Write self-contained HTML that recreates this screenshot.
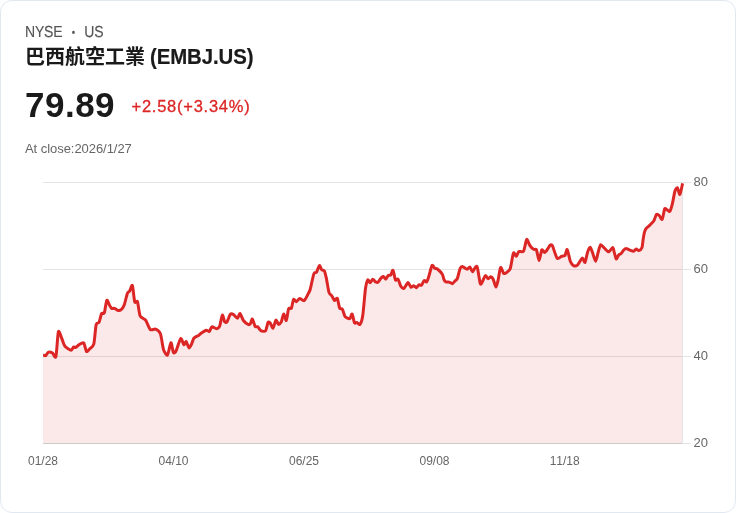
<!DOCTYPE html>
<html lang="zh-Hant">
<head>
<meta charset="utf-8">
<title>巴西航空工業 (EMBJ.US)</title>
<style>
*{box-sizing:border-box;margin:0;padding:0}
html,body{width:736px;height:513px;background:#fff;overflow:hidden}
body{font-family:"Liberation Sans","Noto Sans CJK TC",sans-serif;position:relative;color:#1a1a1a}
.card{position:absolute;left:0;top:0;width:736px;height:513px;border:1px solid #e2e8f0;border-radius:12px;background:#fff}
.t{position:absolute;white-space:nowrap;line-height:1;transform-origin:0 0}
.mkt{left:25px;top:25px;font-size:16px;color:#555;letter-spacing:-0.2px;transform:scale(0.875,1);-webkit-text-stroke:0.15px #555;text-rendering:geometricPrecision}
.mkt i{font-style:normal;display:inline-block;font-size:11px;width:25px;text-align:center;letter-spacing:0;vertical-align:1.2px}
.name{left:25px;top:47px;font-size:20px;font-weight:700;color:#1a1a1a}
.name span{display:inline-block;transform:scaleX(0.948);transform-origin:0 50%;margin-left:-1px;font-size:21.5px;letter-spacing:-0.1px;-webkit-text-stroke:0.2px #1a1a1a}
.price{left:25px;top:87px;font-size:35px;font-weight:700;color:#1a1a1a;letter-spacing:0.5px}
.chg{left:131.5px;top:98px;font-size:16.5px;color:#dc2626;letter-spacing:0.75px;-webkit-text-stroke:0.3px #dc2626}
.time{left:25px;top:141.5px;font-size:13px;color:#666;letter-spacing:-0.05px}
svg{position:absolute;left:0;top:0}
svg text{font-family:"Liberation Sans",sans-serif;fill:#666;font-kerning:none}
</style>
</head>
<body>
<div class="card"></div>
<div class="t mkt">NYSE<i>•</i>US</div>
<div class="t name">巴西航空工業 <span>(EMBJ.US)</span></div>
<div class="t price">79.89</div>
<div class="t chg">+2.58(+3.34%)</div>
<div class="t time">At close:2026/1/27</div>
<svg width="736" height="513" viewBox="0 0 736 513">
<defs><clipPath id="c"><rect x="43" y="170" width="645" height="274"/></clipPath><clipPath id="a"><rect x="43" y="170" width="639" height="273"/></clipPath></defs>
<g stroke="#e4e4e4" stroke-width="1" shape-rendering="crispEdges">
<line x1="43" y1="182.5" x2="691" y2="182.5"/>
<line x1="43" y1="269.5" x2="691" y2="269.5"/>
<line x1="43" y1="356.5" x2="691" y2="356.5"/>
<line x1="43" y1="443.5" x2="691" y2="443.5"/>
</g>
<line x1="43" y1="443.5" x2="683" y2="443.5" stroke="#ccc" stroke-width="1"/>
<path d="M43.0,354.9C43.3,355.0 44.8,356.0 45.5,355.7C46.1,355.3 47.7,352.4 48.6,352.1C49.4,351.8 51.6,352.5 52.5,353.0C53.4,353.6 55.2,359.1 55.9,356.6C56.6,354.1 57.7,334.0 58.4,331.8C59.1,329.6 61.1,336.8 61.8,338.5C62.6,340.2 63.8,344.9 65.0,346.3C66.1,347.7 70.2,350.1 71.2,350.2C72.2,350.3 73.0,347.4 73.5,347.1C74.1,346.7 75.2,347.7 75.9,347.4C76.5,347.1 78.1,345.3 79.0,344.7C79.9,344.2 82.8,342.1 83.7,342.9C84.6,343.7 85.7,350.8 86.5,351.5C87.2,352.1 89.0,349.5 89.9,348.6C90.8,347.7 93.1,346.9 93.8,344.0C94.6,341.1 95.5,327.0 96.2,324.5C96.8,321.9 98.3,323.7 99.0,322.4C99.6,321.1 101.0,314.7 101.6,313.5C102.3,312.4 103.7,314.4 104.3,312.8C104.9,311.2 106.2,301.2 106.8,300.3C107.4,299.3 108.8,304.0 109.4,305.0C110.0,305.9 111.1,308.0 111.8,308.4C112.4,308.8 113.8,308.1 114.6,308.4C115.3,308.6 117.2,310.3 118.0,310.4C118.8,310.6 120.4,310.3 121.1,309.6C121.9,309.0 123.5,306.9 124.2,305.0C125.0,303.0 126.7,294.9 127.4,293.3C128.0,291.6 129.1,291.9 129.7,290.9C130.3,290.0 131.8,284.1 132.4,285.5C133.0,286.8 134.1,299.9 134.7,301.8C135.3,303.8 136.8,300.2 137.5,301.8C138.1,303.5 139.2,313.7 140.1,315.9C141.1,318.1 144.4,318.6 145.6,320.2C146.8,321.9 149.1,328.5 150.3,329.6C151.5,330.7 154.5,328.6 155.7,329.1C157.0,329.6 159.5,331.4 160.4,333.8C161.4,336.3 162.7,346.9 163.5,349.4C164.4,352.0 166.6,356.0 167.4,355.2C168.3,354.4 170.2,343.0 170.9,342.7C171.6,342.4 172.8,351.6 173.4,352.5C174.0,353.5 175.1,352.7 176.0,351.0C176.9,349.3 179.8,339.3 180.7,338.5C181.6,337.8 183.2,344.4 183.8,344.7C184.5,345.1 185.5,341.2 186.2,341.6C186.8,342.0 188.3,347.6 189.0,347.9C189.6,348.1 191.0,345.1 191.6,344.0C192.2,342.8 193.1,339.1 194.0,338.0C194.8,337.0 197.7,336.0 198.6,335.4C199.6,334.7 200.8,333.3 201.8,332.7C202.7,332.1 205.5,330.4 206.4,330.2C207.3,330.1 208.6,331.9 209.3,331.5C209.9,331.1 211.0,327.1 211.9,326.8C212.8,326.5 215.6,328.8 216.6,328.7C217.5,328.6 219.0,327.7 219.7,326.0C220.4,324.4 221.7,315.6 222.3,315.1C222.9,314.6 224.1,321.0 224.7,321.8C225.2,322.6 226.4,322.6 227.0,321.8C227.7,320.9 229.4,315.5 230.1,314.6C230.9,313.7 232.4,313.9 233.3,314.3C234.1,314.7 236.7,318.3 237.5,318.2C238.3,318.1 239.3,313.2 240.0,313.5C240.7,313.8 242.4,319.2 243.4,320.5C244.4,321.8 247.2,324.0 248.1,324.4C248.9,324.8 249.9,324.3 250.4,323.6C250.9,323.0 251.9,318.6 252.4,319.0C253.0,319.3 254.5,325.5 255.1,326.5C255.7,327.4 257.1,326.3 257.8,326.8C258.4,327.3 259.9,330.2 260.9,330.7C261.8,331.1 264.7,331.7 265.6,330.7C266.4,329.7 267.5,323.3 268.0,322.4C268.6,321.5 269.6,322.2 270.2,322.9C270.8,323.6 272.4,328.6 273.0,328.3C273.7,328.0 275.2,320.7 275.9,320.2C276.5,319.7 277.9,324.2 278.5,324.4C279.1,324.6 280.5,323.3 281.2,322.1C281.8,320.8 283.0,314.2 283.7,314.0C284.3,313.8 285.7,321.1 286.3,320.5C286.9,319.9 288.0,310.3 288.6,308.8C289.3,307.3 290.9,309.2 291.5,308.0C292.0,306.9 293.0,300.2 293.6,299.5C294.2,298.7 295.7,301.9 296.4,301.8C297.2,301.7 298.6,298.5 299.6,298.4C300.5,298.2 303.1,301.3 304.2,300.6C305.4,299.8 308.2,293.8 308.9,292.4C309.7,291.1 309.7,291.2 310.3,289.0C310.9,286.8 313.1,275.7 313.9,273.7C314.7,271.7 315.9,273.1 316.6,272.2C317.2,271.2 318.7,265.9 319.4,265.6C320.0,265.3 321.1,269.2 321.7,269.8C322.3,270.5 323.8,269.9 324.4,270.9C324.9,271.9 325.8,275.8 326.4,278.4C326.9,281.0 328.4,290.3 329.0,292.4C329.7,294.5 331.2,294.9 331.8,295.9C332.5,296.8 334.0,300.3 334.6,300.6C335.3,300.9 336.7,297.5 337.3,298.4C337.9,299.3 339.0,306.7 339.6,308.0C340.3,309.4 341.8,308.3 342.4,309.3C343.1,310.3 344.2,315.5 345.1,316.6C346.0,317.7 348.9,319.0 349.8,318.7C350.6,318.3 351.6,313.5 352.1,314.0C352.7,314.5 353.9,321.9 354.5,322.9C355.0,323.9 356.1,322.2 356.8,322.4C357.5,322.6 359.2,325.2 359.9,324.4C360.6,323.6 362.1,320.1 362.7,315.8C363.4,311.6 364.8,293.6 365.4,289.3C366.0,285.0 367.2,280.7 367.7,280.0C368.3,279.2 369.5,282.9 370.1,282.8C370.7,282.7 372.1,279.3 372.7,279.2C373.4,279.1 374.9,281.5 375.5,281.8C376.1,282.2 377.2,282.8 377.9,282.3C378.5,281.9 380.3,278.8 381.0,278.1C381.6,277.4 382.8,276.4 383.3,276.5C383.9,276.7 385.1,279.3 385.7,279.2C386.3,279.0 387.7,275.8 388.3,275.3C388.9,274.8 390.2,275.6 390.8,275.0C391.4,274.4 392.4,269.7 393.0,270.3C393.6,270.9 394.9,278.9 395.5,280.0C396.1,281.0 397.5,278.4 398.1,279.2C398.8,279.9 400.1,285.1 400.8,286.2C401.5,287.3 403.0,288.8 403.9,288.4C404.8,287.9 407.3,282.7 408.1,282.6C409.0,282.5 410.2,286.9 410.9,287.3C411.6,287.6 413.1,285.6 413.7,285.7C414.4,285.8 415.7,287.8 416.4,287.7C417.0,287.6 418.4,285.2 419.0,284.9C419.7,284.6 420.9,285.8 421.5,285.2C422.1,284.7 423.5,281.0 424.2,280.6C424.8,280.1 426.2,282.5 426.8,281.8C427.5,281.1 428.7,276.7 429.3,274.8C429.9,272.8 431.3,266.2 432.0,265.4C432.6,264.6 434.0,267.6 434.6,268.1C435.3,268.5 436.5,268.3 437.4,269.0C438.4,269.8 441.5,273.0 442.3,274.3C443.1,275.6 443.6,278.7 444.0,279.6C444.4,280.5 445.4,281.7 446.0,282.0C446.6,282.3 448.4,281.9 449.1,282.1C449.9,282.3 451.6,283.8 452.3,283.7C453.0,283.5 454.3,281.7 454.9,281.0C455.5,280.4 456.8,279.9 457.4,278.4C458.0,276.9 459.5,270.0 460.1,268.5C460.7,267.1 461.6,266.4 462.4,266.5C463.2,266.6 466.2,269.3 467.1,269.3C468.0,269.4 469.2,266.7 469.9,267.0C470.5,267.3 471.9,271.5 472.5,271.7C473.1,271.8 474.3,268.6 474.9,268.1C475.4,267.5 476.6,265.1 477.2,267.0C477.9,268.9 479.7,282.0 480.3,283.7C481.0,285.4 482.1,282.0 482.7,281.0C483.3,280.0 484.7,275.8 485.3,275.6C486.0,275.3 487.5,278.5 488.1,278.7C488.8,278.8 490.2,276.7 490.8,276.8C491.4,276.9 492.7,278.2 493.3,279.5C493.9,280.7 495.3,287.0 495.9,287.1C496.5,287.2 497.6,282.4 498.1,280.1C498.7,277.7 499.9,268.4 500.6,267.6C501.3,266.8 503.0,272.8 503.7,273.4C504.5,273.9 506.1,272.9 506.8,272.3C507.6,271.7 509.5,270.7 510.3,268.4C511.1,266.1 512.7,254.5 513.4,253.1C514.1,251.6 515.6,256.4 516.2,256.2C516.9,256.0 518.0,252.1 518.9,251.5C519.7,250.9 522.6,252.6 523.5,251.2C524.5,249.8 525.9,240.2 526.7,239.5C527.4,238.8 528.9,244.1 529.8,245.3C530.6,246.5 532.9,248.8 533.7,249.3C534.5,249.9 535.8,248.6 536.5,250.0C537.1,251.3 538.5,260.6 539.1,260.6C539.8,260.6 541.1,250.9 541.8,250.0C542.4,249.0 543.9,252.5 544.6,252.4C545.3,252.4 546.8,250.2 547.4,249.3C548.1,248.5 549.5,245.7 550.1,245.3C550.7,244.8 551.6,244.2 552.4,245.7C553.2,247.3 556.0,257.0 557.1,258.2C558.2,259.5 560.8,256.5 561.8,256.2C562.7,255.9 564.2,256.4 564.9,255.6C565.5,254.8 566.6,248.9 567.2,249.6C567.9,250.3 569.6,259.4 570.3,261.3C571.1,263.3 572.6,265.1 573.5,265.6C574.3,266.0 576.3,266.1 577.4,265.2C578.4,264.3 581.3,258.4 582.2,258.1C583.2,257.7 584.4,263.1 585.0,262.4C585.6,261.8 586.9,254.3 587.5,252.5C588.1,250.6 589.6,247.2 590.2,247.2C590.8,247.2 591.8,250.8 592.5,252.5C593.1,254.1 594.9,261.2 595.6,261.2C596.3,261.2 597.5,254.4 598.1,252.5C598.7,250.5 599.8,245.2 600.6,244.7C601.4,244.3 604.0,247.9 605.0,248.7C605.9,249.6 607.8,252.0 608.7,251.8C609.6,251.7 612.0,247.4 612.7,247.5C613.4,247.5 613.9,251.1 614.3,252.5C614.8,253.8 615.7,258.7 616.2,259.0C616.7,259.3 618.1,255.6 618.7,255.0C619.3,254.3 620.6,254.1 621.2,253.5C621.8,252.9 623.1,250.6 623.7,250.0C624.3,249.4 625.4,248.4 626.2,248.5C626.9,248.5 629.0,249.9 629.9,250.2C630.8,250.5 632.9,251.4 633.7,251.2C634.4,251.1 635.6,249.0 636.2,249.0C636.8,248.9 638.0,250.8 638.7,250.6C639.4,250.4 641.5,248.9 642.0,247.5C642.5,246.1 642.9,240.8 643.2,239.0C643.5,237.2 644.0,233.7 644.4,232.4C644.8,231.1 645.6,229.3 646.2,228.4C646.9,227.5 649.1,225.9 650.0,224.9C650.9,224.0 653.1,222.0 653.9,220.7C654.7,219.4 655.8,215.0 656.5,214.4C657.2,213.8 658.7,215.0 659.3,215.6C660.0,216.2 661.6,220.1 662.2,219.3C662.9,218.5 664.1,209.8 664.7,208.7C665.3,207.6 666.8,209.9 667.5,210.2C668.1,210.5 669.4,212.0 670.0,211.2C670.5,210.4 671.8,206.1 672.4,203.7C673.0,201.3 674.3,193.1 674.9,191.2C675.5,189.3 676.8,187.4 677.4,187.7C678.0,188.1 679.3,194.9 679.9,194.4C680.6,193.8 682.3,184.6 682.6,183.3L682.6,443L43.0,443Z" fill="#dc2626" fill-opacity="0.1" stroke="none" clip-path="url(#a)"/>
<line x1="682.5" y1="182" x2="682.5" y2="444" stroke="#e4e4e4" stroke-width="1" shape-rendering="crispEdges"/>
<g clip-path="url(#c)">
<path d="M43.0,354.9C43.3,355.0 44.8,356.0 45.5,355.7C46.1,355.3 47.7,352.4 48.6,352.1C49.4,351.8 51.6,352.5 52.5,353.0C53.4,353.6 55.2,359.1 55.9,356.6C56.6,354.1 57.7,334.0 58.4,331.8C59.1,329.6 61.1,336.8 61.8,338.5C62.6,340.2 63.8,344.9 65.0,346.3C66.1,347.7 70.2,350.1 71.2,350.2C72.2,350.3 73.0,347.4 73.5,347.1C74.1,346.7 75.2,347.7 75.9,347.4C76.5,347.1 78.1,345.3 79.0,344.7C79.9,344.2 82.8,342.1 83.7,342.9C84.6,343.7 85.7,350.8 86.5,351.5C87.2,352.1 89.0,349.5 89.9,348.6C90.8,347.7 93.1,346.9 93.8,344.0C94.6,341.1 95.5,327.0 96.2,324.5C96.8,321.9 98.3,323.7 99.0,322.4C99.6,321.1 101.0,314.7 101.6,313.5C102.3,312.4 103.7,314.4 104.3,312.8C104.9,311.2 106.2,301.2 106.8,300.3C107.4,299.3 108.8,304.0 109.4,305.0C110.0,305.9 111.1,308.0 111.8,308.4C112.4,308.8 113.8,308.1 114.6,308.4C115.3,308.6 117.2,310.3 118.0,310.4C118.8,310.6 120.4,310.3 121.1,309.6C121.9,309.0 123.5,306.9 124.2,305.0C125.0,303.0 126.7,294.9 127.4,293.3C128.0,291.6 129.1,291.9 129.7,290.9C130.3,290.0 131.8,284.1 132.4,285.5C133.0,286.8 134.1,299.9 134.7,301.8C135.3,303.8 136.8,300.2 137.5,301.8C138.1,303.5 139.2,313.7 140.1,315.9C141.1,318.1 144.4,318.6 145.6,320.2C146.8,321.9 149.1,328.5 150.3,329.6C151.5,330.7 154.5,328.6 155.7,329.1C157.0,329.6 159.5,331.4 160.4,333.8C161.4,336.3 162.7,346.9 163.5,349.4C164.4,352.0 166.6,356.0 167.4,355.2C168.3,354.4 170.2,343.0 170.9,342.7C171.6,342.4 172.8,351.6 173.4,352.5C174.0,353.5 175.1,352.7 176.0,351.0C176.9,349.3 179.8,339.3 180.7,338.5C181.6,337.8 183.2,344.4 183.8,344.7C184.5,345.1 185.5,341.2 186.2,341.6C186.8,342.0 188.3,347.6 189.0,347.9C189.6,348.1 191.0,345.1 191.6,344.0C192.2,342.8 193.1,339.1 194.0,338.0C194.8,337.0 197.7,336.0 198.6,335.4C199.6,334.7 200.8,333.3 201.8,332.7C202.7,332.1 205.5,330.4 206.4,330.2C207.3,330.1 208.6,331.9 209.3,331.5C209.9,331.1 211.0,327.1 211.9,326.8C212.8,326.5 215.6,328.8 216.6,328.7C217.5,328.6 219.0,327.7 219.7,326.0C220.4,324.4 221.7,315.6 222.3,315.1C222.9,314.6 224.1,321.0 224.7,321.8C225.2,322.6 226.4,322.6 227.0,321.8C227.7,320.9 229.4,315.5 230.1,314.6C230.9,313.7 232.4,313.9 233.3,314.3C234.1,314.7 236.7,318.3 237.5,318.2C238.3,318.1 239.3,313.2 240.0,313.5C240.7,313.8 242.4,319.2 243.4,320.5C244.4,321.8 247.2,324.0 248.1,324.4C248.9,324.8 249.9,324.3 250.4,323.6C250.9,323.0 251.9,318.6 252.4,319.0C253.0,319.3 254.5,325.5 255.1,326.5C255.7,327.4 257.1,326.3 257.8,326.8C258.4,327.3 259.9,330.2 260.9,330.7C261.8,331.1 264.7,331.7 265.6,330.7C266.4,329.7 267.5,323.3 268.0,322.4C268.6,321.5 269.6,322.2 270.2,322.9C270.8,323.6 272.4,328.6 273.0,328.3C273.7,328.0 275.2,320.7 275.9,320.2C276.5,319.7 277.9,324.2 278.5,324.4C279.1,324.6 280.5,323.3 281.2,322.1C281.8,320.8 283.0,314.2 283.7,314.0C284.3,313.8 285.7,321.1 286.3,320.5C286.9,319.9 288.0,310.3 288.6,308.8C289.3,307.3 290.9,309.2 291.5,308.0C292.0,306.9 293.0,300.2 293.6,299.5C294.2,298.7 295.7,301.9 296.4,301.8C297.2,301.7 298.6,298.5 299.6,298.4C300.5,298.2 303.1,301.3 304.2,300.6C305.4,299.8 308.2,293.8 308.9,292.4C309.7,291.1 309.7,291.2 310.3,289.0C310.9,286.8 313.1,275.7 313.9,273.7C314.7,271.7 315.9,273.1 316.6,272.2C317.2,271.2 318.7,265.9 319.4,265.6C320.0,265.3 321.1,269.2 321.7,269.8C322.3,270.5 323.8,269.9 324.4,270.9C324.9,271.9 325.8,275.8 326.4,278.4C326.9,281.0 328.4,290.3 329.0,292.4C329.7,294.5 331.2,294.9 331.8,295.9C332.5,296.8 334.0,300.3 334.6,300.6C335.3,300.9 336.7,297.5 337.3,298.4C337.9,299.3 339.0,306.7 339.6,308.0C340.3,309.4 341.8,308.3 342.4,309.3C343.1,310.3 344.2,315.5 345.1,316.6C346.0,317.7 348.9,319.0 349.8,318.7C350.6,318.3 351.6,313.5 352.1,314.0C352.7,314.5 353.9,321.9 354.5,322.9C355.0,323.9 356.1,322.2 356.8,322.4C357.5,322.6 359.2,325.2 359.9,324.4C360.6,323.6 362.1,320.1 362.7,315.8C363.4,311.6 364.8,293.6 365.4,289.3C366.0,285.0 367.2,280.7 367.7,280.0C368.3,279.2 369.5,282.9 370.1,282.8C370.7,282.7 372.1,279.3 372.7,279.2C373.4,279.1 374.9,281.5 375.5,281.8C376.1,282.2 377.2,282.8 377.9,282.3C378.5,281.9 380.3,278.8 381.0,278.1C381.6,277.4 382.8,276.4 383.3,276.5C383.9,276.7 385.1,279.3 385.7,279.2C386.3,279.0 387.7,275.8 388.3,275.3C388.9,274.8 390.2,275.6 390.8,275.0C391.4,274.4 392.4,269.7 393.0,270.3C393.6,270.9 394.9,278.9 395.5,280.0C396.1,281.0 397.5,278.4 398.1,279.2C398.8,279.9 400.1,285.1 400.8,286.2C401.5,287.3 403.0,288.8 403.9,288.4C404.8,287.9 407.3,282.7 408.1,282.6C409.0,282.5 410.2,286.9 410.9,287.3C411.6,287.6 413.1,285.6 413.7,285.7C414.4,285.8 415.7,287.8 416.4,287.7C417.0,287.6 418.4,285.2 419.0,284.9C419.7,284.6 420.9,285.8 421.5,285.2C422.1,284.7 423.5,281.0 424.2,280.6C424.8,280.1 426.2,282.5 426.8,281.8C427.5,281.1 428.7,276.7 429.3,274.8C429.9,272.8 431.3,266.2 432.0,265.4C432.6,264.6 434.0,267.6 434.6,268.1C435.3,268.5 436.5,268.3 437.4,269.0C438.4,269.8 441.5,273.0 442.3,274.3C443.1,275.6 443.6,278.7 444.0,279.6C444.4,280.5 445.4,281.7 446.0,282.0C446.6,282.3 448.4,281.9 449.1,282.1C449.9,282.3 451.6,283.8 452.3,283.7C453.0,283.5 454.3,281.7 454.9,281.0C455.5,280.4 456.8,279.9 457.4,278.4C458.0,276.9 459.5,270.0 460.1,268.5C460.7,267.1 461.6,266.4 462.4,266.5C463.2,266.6 466.2,269.3 467.1,269.3C468.0,269.4 469.2,266.7 469.9,267.0C470.5,267.3 471.9,271.5 472.5,271.7C473.1,271.8 474.3,268.6 474.9,268.1C475.4,267.5 476.6,265.1 477.2,267.0C477.9,268.9 479.7,282.0 480.3,283.7C481.0,285.4 482.1,282.0 482.7,281.0C483.3,280.0 484.7,275.8 485.3,275.6C486.0,275.3 487.5,278.5 488.1,278.7C488.8,278.8 490.2,276.7 490.8,276.8C491.4,276.9 492.7,278.2 493.3,279.5C493.9,280.7 495.3,287.0 495.9,287.1C496.5,287.2 497.6,282.4 498.1,280.1C498.7,277.7 499.9,268.4 500.6,267.6C501.3,266.8 503.0,272.8 503.7,273.4C504.5,273.9 506.1,272.9 506.8,272.3C507.6,271.7 509.5,270.7 510.3,268.4C511.1,266.1 512.7,254.5 513.4,253.1C514.1,251.6 515.6,256.4 516.2,256.2C516.9,256.0 518.0,252.1 518.9,251.5C519.7,250.9 522.6,252.6 523.5,251.2C524.5,249.8 525.9,240.2 526.7,239.5C527.4,238.8 528.9,244.1 529.8,245.3C530.6,246.5 532.9,248.8 533.7,249.3C534.5,249.9 535.8,248.6 536.5,250.0C537.1,251.3 538.5,260.6 539.1,260.6C539.8,260.6 541.1,250.9 541.8,250.0C542.4,249.0 543.9,252.5 544.6,252.4C545.3,252.4 546.8,250.2 547.4,249.3C548.1,248.5 549.5,245.7 550.1,245.3C550.7,244.8 551.6,244.2 552.4,245.7C553.2,247.3 556.0,257.0 557.1,258.2C558.2,259.5 560.8,256.5 561.8,256.2C562.7,255.9 564.2,256.4 564.9,255.6C565.5,254.8 566.6,248.9 567.2,249.6C567.9,250.3 569.6,259.4 570.3,261.3C571.1,263.3 572.6,265.1 573.5,265.6C574.3,266.0 576.3,266.1 577.4,265.2C578.4,264.3 581.3,258.4 582.2,258.1C583.2,257.7 584.4,263.1 585.0,262.4C585.6,261.8 586.9,254.3 587.5,252.5C588.1,250.6 589.6,247.2 590.2,247.2C590.8,247.2 591.8,250.8 592.5,252.5C593.1,254.1 594.9,261.2 595.6,261.2C596.3,261.2 597.5,254.4 598.1,252.5C598.7,250.5 599.8,245.2 600.6,244.7C601.4,244.3 604.0,247.9 605.0,248.7C605.9,249.6 607.8,252.0 608.7,251.8C609.6,251.7 612.0,247.4 612.7,247.5C613.4,247.5 613.9,251.1 614.3,252.5C614.8,253.8 615.7,258.7 616.2,259.0C616.7,259.3 618.1,255.6 618.7,255.0C619.3,254.3 620.6,254.1 621.2,253.5C621.8,252.9 623.1,250.6 623.7,250.0C624.3,249.4 625.4,248.4 626.2,248.5C626.9,248.5 629.0,249.9 629.9,250.2C630.8,250.5 632.9,251.4 633.7,251.2C634.4,251.1 635.6,249.0 636.2,249.0C636.8,248.9 638.0,250.8 638.7,250.6C639.4,250.4 641.5,248.9 642.0,247.5C642.5,246.1 642.9,240.8 643.2,239.0C643.5,237.2 644.0,233.7 644.4,232.4C644.8,231.1 645.6,229.3 646.2,228.4C646.9,227.5 649.1,225.9 650.0,224.9C650.9,224.0 653.1,222.0 653.9,220.7C654.7,219.4 655.8,215.0 656.5,214.4C657.2,213.8 658.7,215.0 659.3,215.6C660.0,216.2 661.6,220.1 662.2,219.3C662.9,218.5 664.1,209.8 664.7,208.7C665.3,207.6 666.8,209.9 667.5,210.2C668.1,210.5 669.4,212.0 670.0,211.2C670.5,210.4 671.8,206.1 672.4,203.7C673.0,201.3 674.3,193.1 674.9,191.2C675.5,189.3 676.8,187.4 677.4,187.7C678.0,188.1 679.3,194.9 679.9,194.4C680.6,193.8 682.3,184.6 682.6,183.3" fill="none" stroke="#dc2626" stroke-width="3" stroke-linejoin="round" stroke-linecap="butt"/>
</g>
<g font-size="13">
<text x="693.5" y="185.6">80</text>
<text x="693.5" y="272.6">60</text>
<text x="693.5" y="359.6">40</text>
<text x="693.5" y="446.6">20</text>
</g>
<g font-size="12" text-anchor="middle">
<text x="43" y="465">01/28</text>
<text x="173.5" y="465">04/10</text>
<text x="304" y="465">06/25</text>
<text x="434.5" y="465">09/08</text>
<text x="564.7" y="465">11/18</text>
</g>
</svg>
</body>
</html>
